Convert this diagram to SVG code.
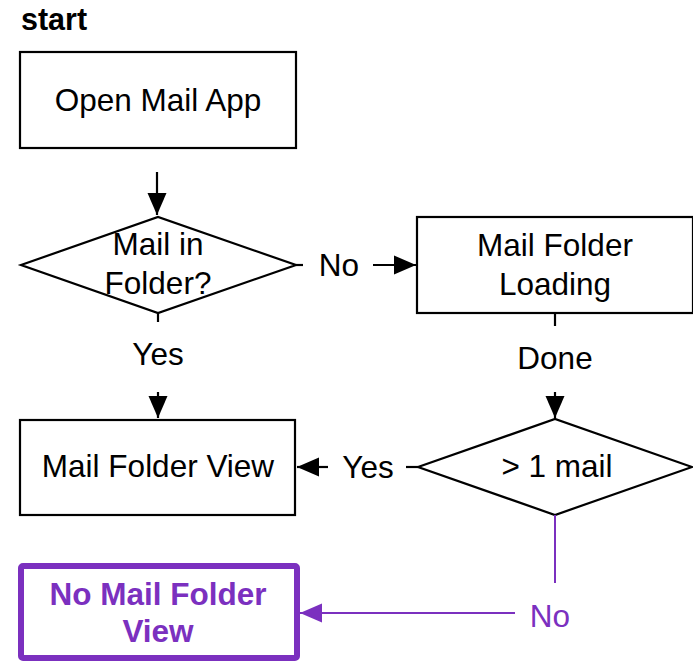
<svg xmlns="http://www.w3.org/2000/svg" width="693" height="663" viewBox="0 0 693 663">
<style>
text{font-family:"Liberation Sans",Arial,sans-serif;font-size:31.5px;fill:#000;text-anchor:middle}
.shape{fill:#fff;stroke:#000;stroke-width:2.2}
.line{fill:none;stroke:#000;stroke-width:2.2}
.pline{fill:none;stroke:#7B30BF;stroke-width:2}
.p{fill:#7B30BF}
.b{font-weight:bold}
</style>
<defs>
<marker id="ah" markerUnits="userSpaceOnUse" markerWidth="24" markerHeight="20" refX="22" refY="10" orient="auto">
<path d="M0,0.5 L22,10 L0,19.5 Z" fill="#000"/>
</marker>
<marker id="ahp" markerUnits="userSpaceOnUse" markerWidth="24" markerHeight="20" refX="22" refY="10" orient="auto">
<path d="M0,0.5 L22,10 L0,19.5 Z" fill="#7B30BF"/>
</marker>
</defs>
<rect width="693" height="663" fill="#fff"/>
<text x="21" y="30" class="b" style="text-anchor:start;font-size:30.5px">start</text>
<g id="open-mail-app">
<rect class="shape" x="20" y="52" width="276" height="96"/>
<text x="158" y="111">Open Mail App</text>
</g>
<g id="mail-in-folder">
<polygon class="shape" points="21,265 158,217 296,265 158,313"/>
<text x="158" y="255">Mail in</text>
<text x="158" y="294">Folder?</text>
</g>
<g id="mail-folder-loading">
<rect class="shape" x="417" y="217" width="276" height="96"/>
<text x="555" y="256">Mail Folder</text>
<text x="555" y="295">Loading</text>
</g>
<g id="more-than-one-mail">
<polygon class="shape" points="418,467 555,419 692,467 555,515"/>
<text x="557" y="477">&gt; 1 mail</text>
</g>
<g id="mail-folder-view">
<rect class="shape" x="20" y="420" width="275" height="95"/>
<text x="158" y="477">Mail Folder View</text>
</g>
<g id="no-mail-folder-view">
<rect x="21" y="566" width="276" height="92" rx="2" fill="#fff" stroke="#7B30BF" stroke-width="6"/>
<text x="158" y="605" class="b p">No Mail Folder</text>
<text x="158" y="642" class="b p">View</text>
</g>
<g id="connectors">
<line class="line" x1="157" y1="172" x2="157" y2="215" marker-end="url(#ah)"/>
<line class="line" x1="296" y1="265" x2="303" y2="265"/>
<text x="339" y="276">No</text>
<line class="line" x1="373" y1="265" x2="416" y2="265" marker-end="url(#ah)"/>
<line class="line" x1="158" y1="313" x2="158" y2="322"/>
<text x="158" y="365">Yes</text>
<line class="line" x1="158" y1="392" x2="158" y2="418" marker-end="url(#ah)"/>
<line class="line" x1="555" y1="313" x2="555" y2="326"/>
<text x="555" y="369">Done</text>
<line class="line" x1="555" y1="392" x2="555" y2="418" marker-end="url(#ah)"/>
<line class="line" x1="418" y1="467" x2="406" y2="467"/>
<text x="368" y="478">Yes</text>
<line class="line" x1="328" y1="467" x2="297" y2="467" marker-end="url(#ah)"/>
<line class="pline" x1="555" y1="515" x2="555" y2="583"/>
<text x="550" y="627" class="p">No</text>
<line class="pline" x1="515" y1="613" x2="300" y2="613" marker-end="url(#ahp)"/>
</g>
</svg>
